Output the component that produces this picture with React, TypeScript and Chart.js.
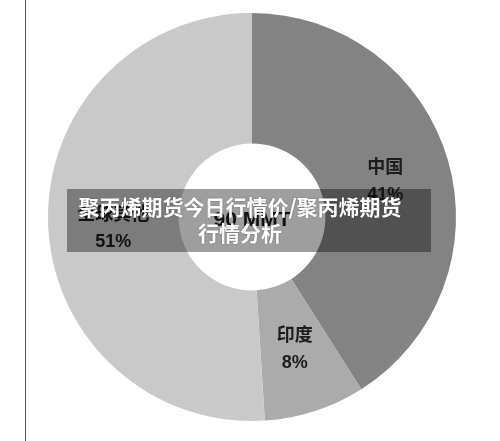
import React, { useEffect, useRef } from "react";
import { Chart, registerables } from "chart.js";

Chart.register(...registerables);

const categories = ["中国", "印度", "全球其他"];
const shares = [41, 8, 51];
const sliceColors = ["#838383", "#ababab", "#c9c9c9"];
const centerLabel = "90 MMT";
const titleLines = ["聚丙烯期货今日行情价/聚丙烯期货", "行情分析"];

const FONT = "'Liberation Sans', 'Noto Sans CJK SC', sans-serif";

const labelPlugin = {
  id: "sliceLabels",
  afterDatasetsDraw(chart: any) {
    const ctx = chart.ctx;
    const meta = chart.getDatasetMeta(0);
    const nudge = [3, 0, 7];
    ctx.save();
    ctx.fillStyle = "#1c1c1c";
    ctx.textAlign = "center";
    ctx.textBaseline = "middle";
    ctx.font = `bold 18px ${FONT}`;
    meta.data.forEach((arc: any, i: number) => {
      const p = arc.getCenterPoint();
      const y = p.y + (nudge[i] || 0);
      ctx.fillText(categories[i], p.x, y - 13);
      ctx.fillText(`${shares[i]}%`, p.x, y + 14);
    });
    const first = meta.data[0];
    if (first) {
      ctx.font = `bold 21px ${FONT}`;
      ctx.fillText(centerLabel, first.x, first.y + 3);
    }
    ctx.restore();
  },
};

export default function App() {
  const ref = useRef<HTMLCanvasElement | null>(null);
  useEffect(() => {
    if (!ref.current) return;
    const chart = new Chart(ref.current, {
      type: "doughnut",
      data: {
        labels: categories,
        datasets: [
          {
            data: shares,
            backgroundColor: sliceColors,
            borderWidth: 0,
          },
        ],
      },
      options: {
        animation: false,
        responsive: true,
        maintainAspectRatio: false,
        cutout: "36%",
        layout: { padding: { left: 48, right: 44, top: 13, bottom: 20 } },
        plugins: {
          legend: { display: false },
          tooltip: { enabled: false },
          title: { display: false },
        },
      },
      plugins: [labelPlugin],
    });
    return () => chart.destroy();
  }, []);

  return (
    <div
      style={{
        position: "fixed",
        left: 0,
        top: 0,
        width: 500,
        height: 441,
        background: "#ffffff",
        overflow: "hidden",
      }}
    >
      <div style={{ position: "absolute", left: 0, top: 0, width: 500, height: 441 }}>
        <canvas ref={ref} />
      </div>
      <div
        style={{
          position: "absolute",
          left: 25,
          top: 0,
          width: 1,
          height: 441,
          background: "#555555",
        }}
      />
      <div
        style={{
          position: "absolute",
          left: 67,
          top: 189,
          width: 364,
          height: 63,
          background: "rgba(0,0,0,0.38)",
        }}
      />
      <div
        style={{
          position: "absolute",
          left: 60,
          top: 193,
          width: 360,
          textAlign: "center",
          color: "#ffffff",
          fontFamily: "'Noto Sans CJK SC', sans-serif",
          fontWeight: 700,
          fontSize: 21,
          lineHeight: "26px",
          textShadow: "0 0 2px rgba(0,0,0,0.35)",
        }}
      >
        {titleLines.map((t, i) => (
          <div key={i}>{t}</div>
        ))}
      </div>
    </div>
  );
}
